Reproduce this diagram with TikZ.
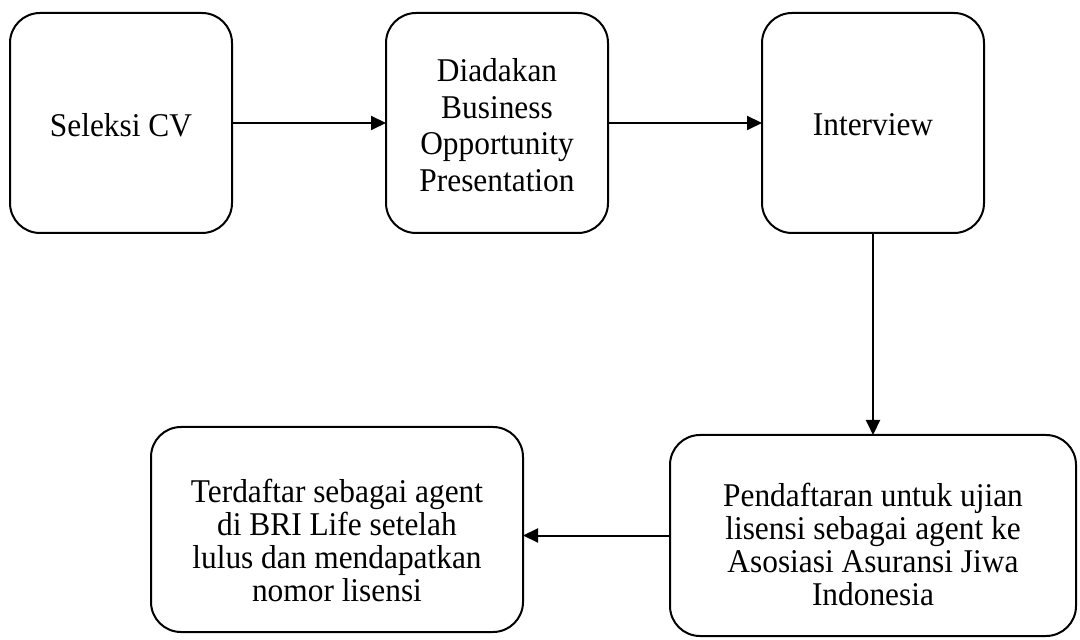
\documentclass[tikz,border=0pt]{standalone}
\usepackage{fontspec}
\setmainfont[FakeStretch=0.945]{Liberation Serif}
\usetikzlibrary{positioning,arrows.meta}

\tikzset{
  stepbox/.style={rectangle,rounded corners=15pt,draw,line width=1pt,inner sep=0pt,outer sep=0pt},
  steptext/.style={align=center,inner sep=0pt,font=\fontsize{16.6}{16.5}\selectfont},
  flow/.style={-{Triangle[length=7.5pt,width=7pt]},line width=1pt}
}

\begin{document}
\begin{tikzpicture}
    \useasboundingbox (0,0) rectangle (540pt,-320pt);
    % boxes
    \node[stepbox,minimum width=111pt,minimum height=110pt] (seleksi) at (60.5pt,-61.5pt) {};
    \node[stepbox,minimum width=111pt,minimum height=110pt,right=77pt] (bop) at (seleksi.east) {};
    \node[stepbox,minimum width=111pt,minimum height=110pt,right=77pt] (interview) at (bop.east) {};
    \node[stepbox,minimum width=203pt,minimum height=100.5pt,below=101pt] (daftar) at (interview.south) {};
    \node[stepbox,minimum width=186pt,minimum height=102.5pt,left=73.5pt,yshift=3pt] (agent) at (daftar.west) {};

    % texts
    \node[steptext,yshift=-1pt] (seleksi_t) at (seleksi) {Seleksi CV};
    \node[steptext,yshift=-1pt,font=\fontsize{16.6}{18.3}\selectfont] (bop_t) at (bop)
      {Diadakan\\Business\\Opportunity\\Presentation};
    \node[steptext,yshift=-1pt] (interview_t) at (interview) {Interview};
    \node[steptext,yshift=-4.5pt] (daftar_t) at (daftar)
      {Pendaftaran untuk ujian\\lisensi sebagai agent ke\\Asosiasi Asuransi Jiwa\\Indonesia};
    \node[steptext,yshift=-5.5pt] (agent_t) at (agent)
      {Terdaftar sebagai agent\\di BRI Life setelah\\lulus dan mendapatkan\\nomor lisensi};

    \draw[flow] (seleksi) -- (bop) ;
    \draw[flow] (bop) -- (interview) ;
    \draw[flow] (interview) -- (daftar) ;
    \draw[flow] (daftar.west) -- (daftar.west -| agent.east) ;
\end{tikzpicture}
\end{document}
